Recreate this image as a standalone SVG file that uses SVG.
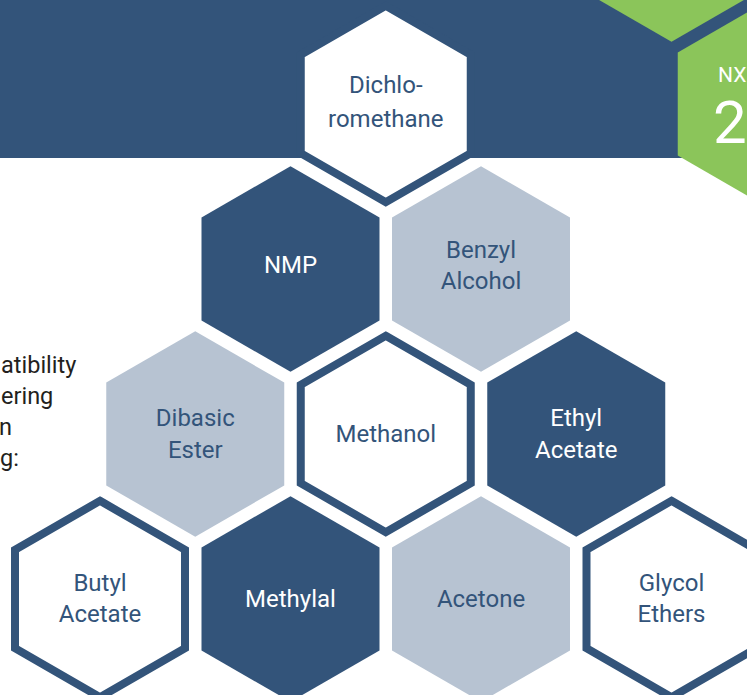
<svg xmlns="http://www.w3.org/2000/svg" xmlns:xlink="http://www.w3.org/1999/xlink" width="747" height="695" viewBox="0 0 747 695">
  <style>
    .dark { fill: #33547A; }
    .light { fill: #B7C3D2; }
    .green { fill: #8BC55A; }
    .ring { fill: #FFFFFF; stroke: #33547A; stroke-width: 8; stroke-linejoin: miter; }
    .t { font-family: Roboto, "Liberation Sans", sans-serif; font-size: 24px; text-anchor: middle; }
    .tb { fill: #33547A; }
    .tw { fill: #FFFFFF; }
    .side { font-family: Roboto, "Liberation Sans", sans-serif; font-size: 23.5px; fill: #231F20; }
  </style>
  <defs>
    <polygon id="hs" points="0,-102.8 89,-51.4 89,51.4 0,102.8 -89,51.4 -89,-51.4"/>
    <polygon id="hr" points="0,-98.2 85,-49.1 85,49.1 0,98.2 -85,49.1 -85,-49.1"/>
  </defs>

  <rect x="0" y="0" width="747" height="695" fill="#FFFFFF"/>

  <g id="banner">
    <rect x="0" y="0" width="747" height="158" class="dark"/>
    <use xlink:href="#hs" href="#hs" class="green" transform="translate(671.5,-61)"/>
    <use xlink:href="#hs" href="#hs" class="green" transform="translate(766.75,104)"/>
    <text x="718" y="82" style="font-family: Roboto, 'Liberation Sans', sans-serif; font-size: 21px; fill: #FFFFFF;">NX</text>
    <text x="713" y="143" style="font-family: Roboto, 'Liberation Sans', sans-serif; font-size: 60px; fill: #FFFFFF;">2</text>
  </g>

  <g id="side-text">
    <text class="side" x="1" y="373">atibility</text>
    <text class="side" x="1" y="404">ering</text>
    <text class="side" x="-1" y="435">n</text>
    <text class="side" x="0" y="466">g:</text>
  </g>

  <g id="dichloromethane">
    <use xlink:href="#hr" href="#hr" class="ring" transform="translate(385.75,104)"/>
    <text class="t tb" x="385.75" y="93">Dichlo-</text>
    <text class="t tb" x="385.75" y="127">romethane</text>
  </g>

  <g id="nmp">
    <use xlink:href="#hs" href="#hs" class="dark" transform="translate(290.5,269)"/>
    <text class="t tw" x="290.5" y="273">NMP</text>
  </g>

  <g id="benzyl-alcohol">
    <use xlink:href="#hs" href="#hs" class="light" transform="translate(481,269)"/>
    <text class="t tb" x="481" y="258">Benzyl</text>
    <text class="t tb" x="481" y="289">Alcohol</text>
  </g>

  <g id="dibasic-ester">
    <use xlink:href="#hs" href="#hs" class="light" transform="translate(195.25,434)"/>
    <text class="t tb" x="195.25" y="426">Dibasic</text>
    <text class="t tb" x="195.25" y="458">Ester</text>
  </g>

  <g id="methanol">
    <use xlink:href="#hr" href="#hr" class="ring" transform="translate(385.75,434)"/>
    <text class="t tb" x="385.75" y="442">Methanol</text>
  </g>

  <g id="ethyl-acetate">
    <use xlink:href="#hs" href="#hs" class="dark" transform="translate(576.25,434)"/>
    <text class="t tw" x="576.25" y="426">Ethyl</text>
    <text class="t tw" x="576.25" y="458">Acetate</text>
  </g>

  <g id="butyl-acetate">
    <use xlink:href="#hr" href="#hr" class="ring" transform="translate(100,599)"/>
    <text class="t tb" x="100" y="591">Butyl</text>
    <text class="t tb" x="100" y="622">Acetate</text>
  </g>

  <g id="methylal">
    <use xlink:href="#hs" href="#hs" class="dark" transform="translate(290.5,599)"/>
    <text class="t tw" x="290.5" y="607">Methylal</text>
  </g>

  <g id="acetone">
    <use xlink:href="#hs" href="#hs" class="light" transform="translate(481,599)"/>
    <text class="t tb" x="481" y="607">Acetone</text>
  </g>

  <g id="glycol-ethers">
    <use xlink:href="#hr" href="#hr" class="ring" transform="translate(671.5,599)"/>
    <text class="t tb" x="671.5" y="591">Glycol</text>
    <text class="t tb" x="671.5" y="622">Ethers</text>
  </g>
</svg>
